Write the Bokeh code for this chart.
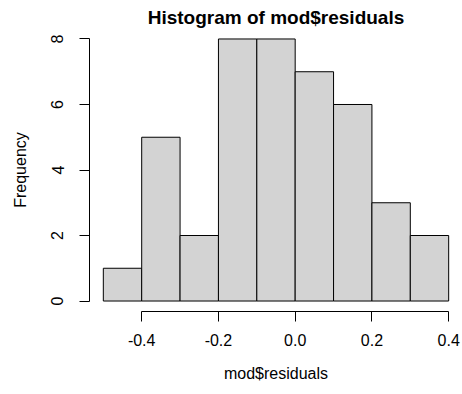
from bokeh.plotting import figure
from bokeh.models import Range1d, FixedTicker
from bokeh.embed import file_html
from bokeh.resources import INLINE

# Data
bin_edges = [-0.5, -0.4, -0.3, -0.2, -0.1, 0.0, 0.1, 0.2, 0.3, 0.4]
counts = [1, 5, 2, 8, 8, 7, 6, 3, 2]
x_ticks = [-0.4, -0.2, 0.0, 0.2, 0.4]
x_tick_labels = ["-0.4", "-0.2", "0.0", "0.2", "0.4"]
y_ticks = [0, 2, 4, 6, 8]

FONT = "Liberation Sans"

xr = (bin_edges[-1] - bin_edges[0]) * 0.04
yr = max(counts) * 0.04
p = figure(width=462, height=394, output_backend="svg", toolbar_location=None,
           x_range=Range1d(bin_edges[0] - xr, bin_edges[-1] + xr),
           y_range=Range1d(-yr, max(counts) + yr),
           min_border_left=89, min_border_right=0, min_border_top=28, min_border_bottom=83,
           title="Histogram of mod$residuals")

p.quad(left=bin_edges[:-1], right=bin_edges[1:], bottom=0, top=counts,
       fill_color="#D3D3D3", line_color="#000000", line_width=1)

p.title.align = "center"
p.title.text_font = FONT
p.title.text_font_size = "19px"
p.title.text_font_style = "bold"
p.title.text_color = "black"
p.title.standoff = 1
p.title.offset = 0

p.outline_line_color = None
p.xgrid.visible = False
p.ygrid.visible = False
p.background_fill_color = "white"
p.border_fill_color = "white"

for ax in (p.xaxis[0], p.yaxis[0]):
    ax.axis_line_color = "black"
    ax.major_tick_line_color = "black"
    ax.minor_tick_line_color = None
    ax.major_tick_out = 10
    ax.major_tick_in = 0
    ax.major_label_text_font = FONT
    ax.major_label_text_font_size = "16px"
    ax.major_label_text_color = "black"
    ax.axis_label_text_font = FONT
    ax.axis_label_text_font_size = "16px"
    ax.axis_label_text_font_style = "normal"
    ax.axis_label_text_color = "black"

p.xaxis.ticker = FixedTicker(ticks=x_ticks)
p.xaxis.major_label_overrides = {t: l for t, l in zip(x_ticks, x_tick_labels)}
p.xaxis.bounds = (x_ticks[0], x_ticks[-1])
p.xaxis.axis_label = "mod$residuals"
p.xaxis.major_label_standoff = 12
p.xaxis.axis_label_standoff = 16

p.yaxis.ticker = FixedTicker(ticks=y_ticks)
p.yaxis.bounds = (y_ticks[0], y_ticks[-1])
p.yaxis.axis_label = "Frequency"
p.yaxis.major_label_orientation = "vertical"
p.yaxis.major_label_standoff = 16
p.yaxis.axis_label_standoff = 20

open("out.html", "w").write(file_html(p, INLINE))
